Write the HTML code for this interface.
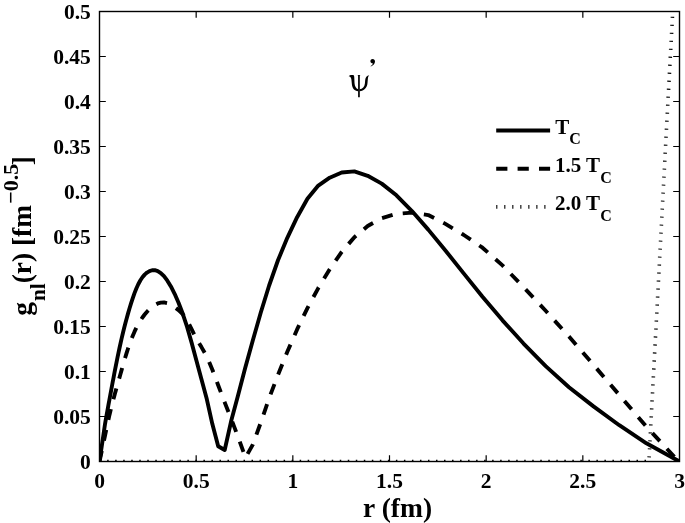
<!DOCTYPE html>
<html><head><meta charset="utf-8"><style>
html,body{margin:0;padding:0;background:#fff;}
svg{display:block;}
text{font-family:"Liberation Serif", serif;font-weight:bold;fill:#000;}
</style></head><body>
<svg style="will-change:transform" width="685" height="523" viewBox="0 0 685 523">
<rect width="685" height="523" fill="#fff"/>
<defs><clipPath id="pc"><rect x="99.5" y="11.5" width="580" height="450"/></clipPath></defs>
<g clip-path="url(#pc)" fill="none" stroke="#000" stroke-linejoin="round">
<path d="M99.5,461.5 H648.9" stroke-width="3.4" stroke-dasharray="1.5 6.52" stroke-dashoffset="0.35"/>
<path d="M648.9,461.5 L673.8,-9" stroke-width="3.6" stroke-dasharray="1.1 6.904" stroke-dashoffset="-4.05"/>
<path d="M99.50,461.50 L105.10,435.26 L105.40,433.85 L105.70,432.37 L106.03,430.82 L106.37,429.19 L106.73,427.49 L107.10,425.70 L107.50,423.85 L107.92,421.91 L108.36,419.91 L108.82,417.83 L109.31,415.68 L109.82,413.48 L110.36,411.21 L110.93,408.88 L111.52,406.48 L112.15,404.01 L112.81,401.47 L113.51,398.85 L114.24,396.15 L115.01,393.35 L115.82,390.45 L116.67,387.43 L117.57,384.28 L118.51,380.96 L119.50,377.46 L120.55,373.77 L121.64,369.89 L122.80,365.84 L124.02,361.64 L125.30,357.32 L126.65,352.92 L128.06,348.51 L129.55,344.14 L131.12,339.86 L132.78,335.70 L134.51,331.68 L136.34,327.83 L138.26,324.17 L140.29,320.73 L142.42,317.51 L144.66,314.52 L147.02,311.75 L149.50,309.19 L152.11,306.88 L154.86,304.92 L157.75,303.44 L160.79,302.59 L163.99,302.46 L167.36,303.15 L170.90,304.74 L174.63,307.12 L178.55,310.10 L182.68,314.03 L187.02,320.15 L191.59,329.15 L196.40,338.84 L201.46,347.09 L206.79,356.48 L212.39,369.76 L218.28,385.47 L224.49,401.89 L231.01,418.41 L237.88,436.34 L245.50,457.60 L252.80,444.60 L260.90,422.20 L269.13,398.22 L277.99,374.92 L287.31,351.82 L297.11,329.43 L307.43,308.14 L318.29,288.08 L329.71,269.30 L341.73,251.92 L354.38,237.15 L367.69,226.04 L381.70,218.25 L396.43,213.85 L411.94,212.62 L428.25,215.11 L445.42,223.88 L463.48,234.75 L482.49,247.71 L502.49,265.37 L523.53,287.11 L545.67,310.74 L568.97,336.49 L593.49,364.88 L619.28,394.94 L646.42,426.66 L674.98,457.48 L679.50,461.50" stroke-width="3.9" stroke-dasharray="11 10.3"/>
<path d="M99.50,461.50 L105.10,423.54 L105.40,421.85 L105.70,420.08 L106.03,418.24 L106.37,416.33 L106.73,414.33 L107.10,412.24 L107.50,410.07 L107.92,407.79 L108.36,405.41 L108.82,402.91 L109.31,400.28 L109.82,397.51 L110.36,394.61 L110.93,391.56 L111.52,388.35 L112.15,385.00 L112.81,381.48 L113.51,377.81 L114.24,373.98 L115.01,369.99 L115.82,365.85 L116.67,361.57 L117.57,357.15 L118.51,352.61 L119.50,347.97 L120.55,343.24 L121.64,338.43 L122.80,333.54 L124.02,328.58 L125.30,323.56 L126.65,318.50 L128.06,313.39 L129.55,308.25 L131.12,303.12 L132.78,298.06 L134.51,293.15 L136.34,288.51 L138.26,284.24 L140.29,280.47 L142.42,277.26 L144.66,274.62 L147.02,272.57 L149.50,271.09 L152.11,270.26 L154.86,270.20 L157.75,271.07 L160.79,273.04 L163.99,276.19 L167.36,280.65 L170.90,286.49 L174.63,293.82 L178.55,302.75 L182.68,313.53 L187.02,326.71 L191.59,342.59 L196.40,360.40 L201.46,379.21 L206.79,399.12 L212.30,423.80 L218.20,446.20 L224.70,450.00 L231.30,420.50 L237.88,396.01 L245.11,368.31 L252.71,340.71 L260.71,312.83 L269.13,285.48 L277.99,260.27 L287.31,237.81 L297.11,217.17 L307.43,198.83 L318.29,185.60 L329.71,177.69 L341.73,172.54 L354.38,171.42 L367.69,175.80 L381.70,183.63 L396.43,195.29 L411.94,211.05 L428.25,229.62 L445.42,250.49 L463.48,273.11 L482.49,296.71 L502.49,320.33 L523.53,343.56 L545.67,366.15 L568.97,387.21 L593.49,406.38 L619.28,425.22 L646.42,443.29 L674.98,459.05 L679.50,461.50" stroke-width="3.9"/>
</g>
<path d="M99.5,416.5h6.3 M679.5,416.5h-6.3 M99.5,371.5h6.3 M679.5,371.5h-6.3 M99.5,326.5h6.3 M679.5,326.5h-6.3 M99.5,281.5h6.3 M679.5,281.5h-6.3 M99.5,236.5h6.3 M679.5,236.5h-6.3 M99.5,191.5h6.3 M679.5,191.5h-6.3 M99.5,146.5h6.3 M679.5,146.5h-6.3 M99.5,101.5h6.3 M679.5,101.5h-6.3 M99.5,56.5h6.3 M679.5,56.5h-6.3 M196.17,461.5v-6.3 M196.17,11.5v6.3 M292.83,461.5v-6.3 M292.83,11.5v6.3 M389.50,461.5v-6.3 M389.50,11.5v6.3 M486.17,461.5v-6.3 M486.17,11.5v6.3 M582.83,461.5v-6.3 M582.83,11.5v6.3 " stroke="#000" stroke-width="1.2" fill="none"/>
<rect x="99.5" y="11.5" width="580" height="450" fill="none" stroke="#000" stroke-width="1.4"/>
<g font-size="21.5">
<text x="90.8" y="468.7" text-anchor="end">0</text>
<text x="90.8" y="423.7" text-anchor="end">0.05</text>
<text x="90.8" y="378.7" text-anchor="end">0.1</text>
<text x="90.8" y="333.7" text-anchor="end">0.15</text>
<text x="90.8" y="288.7" text-anchor="end">0.2</text>
<text x="90.8" y="243.7" text-anchor="end">0.25</text>
<text x="90.8" y="198.7" text-anchor="end">0.3</text>
<text x="90.8" y="153.7" text-anchor="end">0.35</text>
<text x="90.8" y="108.7" text-anchor="end">0.4</text>
<text x="90.8" y="63.7" text-anchor="end">0.45</text>
<text x="90.8" y="18.7" text-anchor="end">0.5</text>

</g>
<g font-size="21.5">
<text x="99.5" y="488" text-anchor="middle">0</text>
<text x="196.2" y="488" text-anchor="middle">0.5</text>
<text x="292.8" y="488" text-anchor="middle">1</text>
<text x="389.5" y="488" text-anchor="middle">1.5</text>
<text x="486.2" y="488" text-anchor="middle">2</text>
<text x="582.8" y="488" text-anchor="middle">2.5</text>
<text x="679.5" y="488" text-anchor="middle">3</text>

</g>
<text x="397.6" y="516.5" font-size="27.5" text-anchor="middle">r (fm)</text>
<g transform="translate(31,315.7) rotate(-90)">
<text x="0" y="0" font-size="27.4">g</text>
<text x="14.7" y="13.6" font-size="21">nl</text>
<text x="32.4" y="0" font-size="27.4">(r) [fm</text>
<text x="111.9" y="-12.6" font-size="22">&#8722;0.5</text>
<text x="150.4" y="0" font-size="27.4">]</text>
</g>
<g fill="#000">
<path d="M348.7,76.2 C349.3,75.3 350.5,75 351.8,75 L353.4,75 C354.1,75.4 354.3,76.5 354.3,78 L354.5,83 C354.7,86.3 356,88.6 358.2,89.2 L358.2,91.2 C354.4,91 352.3,88.3 351.9,84.5 L351.4,79.5 C351.2,77.6 350.3,76.3 348.7,76.2 Z"/>
<path d="M369.3,75.3 C368.3,76 368,77.5 367.8,79.5 L367.5,83 C367.2,87.5 364,91 359.6,91.2 L359.6,89.3 C362.6,88.8 364.6,86.8 364.9,83.5 L365.2,80 C365.4,77.5 366.8,75.6 369.3,75.3 Z"/>
<path d="M357.7,75 H360.2 V75.6 H359.8 V97.2 H358.1 V75.6 H357.7 Z"/>
<path d="M370.4,61.2 C370.4,59.9 371.4,59 372.7,59 C374,59 375,60 375,61.5 C375,63.7 373.3,65.5 370.9,66.5 L370.6,65.9 C371.9,65.1 372.7,64.3 372.9,63.4 C371.5,63.4 370.4,62.5 370.4,61.2 Z"/>
</g>
<g fill="none" stroke="#000" stroke-width="3.9">
<path d="M496.2,130.5 H550.1"/>
<path d="M496.2,168.7 H550.1" stroke-dasharray="11.2 10.2"/>
<path d="M496.25,206.9 H546" stroke-width="3.6" stroke-dasharray="1.1 6.915"/>
</g>
<g font-size="21">
<text x="555.3" y="133.5">T<tspan font-size="16" dy="10.9">C</tspan></text>
<text x="555" y="172.1">1.5 T<tspan font-size="16" dy="10.9">C</tspan></text>
<text x="555" y="209.9">2.0 T<tspan font-size="16" dy="10.9">C</tspan></text>
</g>
</svg>
</body></html>
